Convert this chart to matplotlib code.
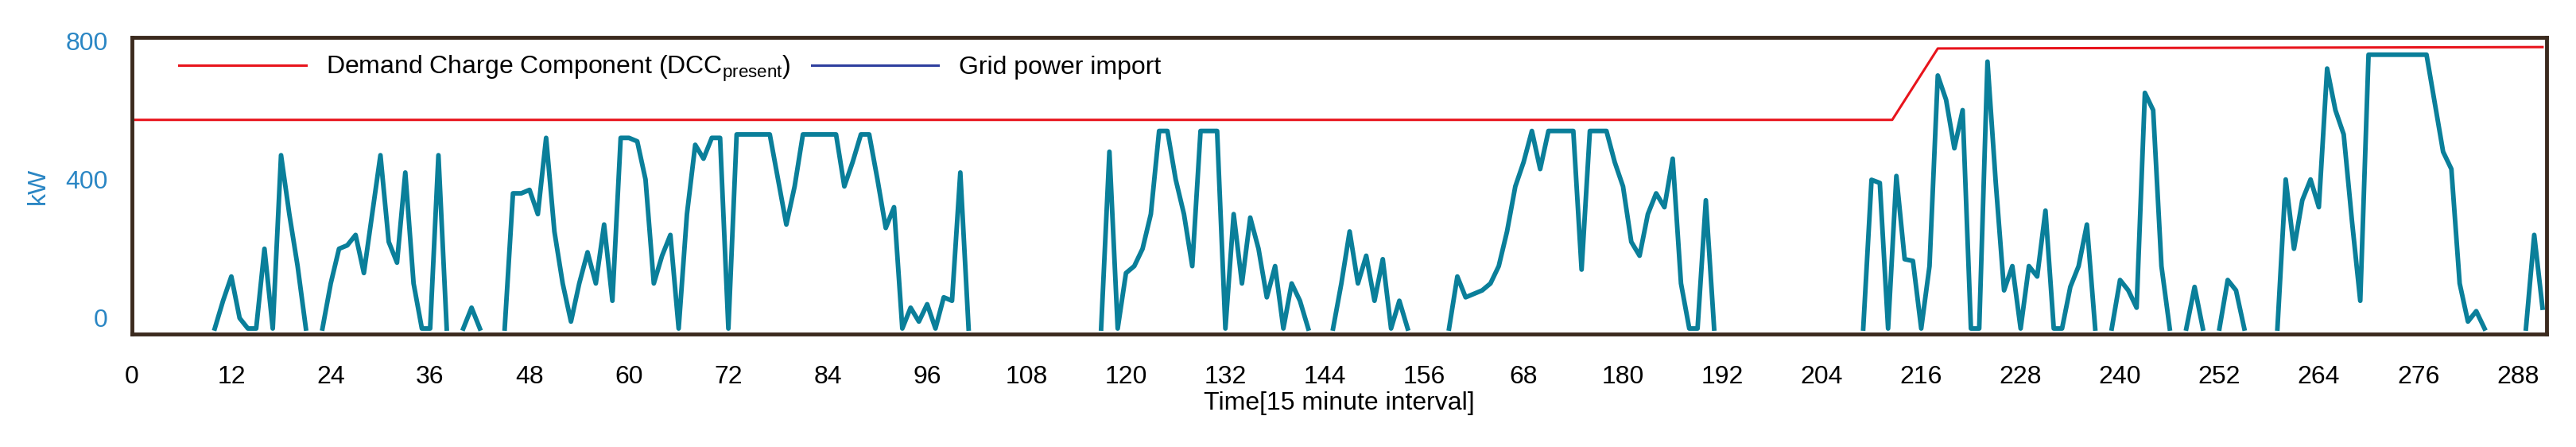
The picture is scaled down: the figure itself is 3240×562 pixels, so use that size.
import numpy as np
import matplotlib
matplotlib.use("Agg")
import matplotlib.pyplot as plt
from matplotlib.lines import Line2D

plt.rcParams['font.family'] = ['Liberation Sans', 'DejaVu Sans']
plt.rcParams['mathtext.default'] = 'regular'

# grid power import (kW), index = 15 minute interval, missing = no import
grid_points = {
    10: -30, 11: 50, 12: 120, 13: 0, 14: -30,
    15: -30, 16: 200, 17: -30, 18: 470, 19: 300, 20: 150, 21: -30,
    23: -30, 24: 100, 25: 200, 26: 210, 27: 240, 28: 130, 29: 300, 30: 470, 31: 220,
    32: 160, 33: 420, 34: 100, 35: -30, 36: -30, 37: 470, 38: -30,
    40: -30, 41: 30, 42: -30,
    45: -30, 46: 360, 47: 360, 48: 370, 49: 300, 50: 520, 51: 250, 52: 100, 53: -10,
    54: 100, 55: 190, 56: 100, 57: 270, 58: 50, 59: 520, 60: 520, 61: 510, 62: 400,
    63: 100, 64: 180, 65: 240, 66: -30, 67: 300, 68: 500, 69: 460, 70: 520, 71: 520,
    72: -30, 73: 530, 74: 530, 75: 530, 76: 530, 77: 530, 78: 400, 79: 270, 80: 380,
    81: 530, 82: 530, 83: 530, 84: 530, 85: 530, 86: 380, 87: 450, 88: 530, 89: 530,
    90: 400, 91: 260, 92: 320, 93: -30,
    94: 30, 95: -10, 96: 40, 97: -30, 98: 60, 99: 50, 100: 420, 101: -30,
    117: -30, 118: 480, 119: -30, 120: 130, 121: 150, 122: 200, 123: 300, 124: 540,
    125: 540, 126: 400, 127: 300, 128: 150, 129: 540, 130: 540, 131: 540, 132: -30,
    133: 300, 134: 100, 135: 290, 136: 200, 137: 60, 138: 150, 139: -30, 140: 100,
    141: 50, 142: -30,
    145: -30, 146: 100, 147: 250, 148: 100, 149: 180, 150: 50, 151: 170, 152: -30,
    153: 50, 154: -30,
    159: -30, 160: 120, 161: 60, 162: 70, 163: 80, 164: 100, 165: 150, 166: 250,
    167: 380, 168: 450, 169: 540, 170: 430, 171: 540, 172: 540, 173: 540, 174: 540,
    175: 140, 176: 540, 177: 540, 178: 540, 179: 450, 180: 380, 181: 220, 182: 180,
    183: 300, 184: 360, 185: 320, 186: 460, 187: 100, 188: -30,
    189: -30, 190: 340, 191: -30,
    209: -30, 210: 399, 211: 390, 212: -30, 213: 410, 214: 170, 215: 165, 216: -30,
    217: 150, 218: 700, 219: 630, 220: 490, 221: 600, 222: -30, 223: -30, 224: 740,
    225: 390, 226: 80, 227: 150, 228: -30, 229: 150, 230: 120, 231: 310, 232: -30,
    233: -30, 234: 90, 235: 150, 236: 270, 237: -30,
    239: -30, 240: 110, 241: 80, 242: 30, 243: 650, 244: 600, 245: 150, 246: -30,
    248: -30, 249: 90, 250: -30,
    252: -30, 253: 110, 254: 80, 255: -30,
    259: -30, 260: 400, 261: 200, 262: 340, 263: 400, 264: 320, 265: 720, 266: 600,
    267: 530, 268: 280, 269: 50, 270: 760, 271: 760, 272: 760, 273: 760, 274: 760,
    275: 760, 276: 760, 277: 760, 278: 620, 279: 480, 280: 430, 281: 100, 282: -10,
    283: 20, 284: -30,
    289: -30, 290: 240, 291: 30,
}

# demand charge component, breakpoints
dcc_x = [0, 212.5, 218, 291]
dcc_y = [572, 572, 778, 782]

xticks = list(range(0, 289, 12))
xtick_labels = [str(t) for t in xticks]
xtick_labels[xticks.index(168)] = "68"

x = np.arange(0, 292)
grid = np.full(len(x), np.nan)
for k, v in grid_points.items():
    grid[k] = v

fig = plt.figure(figsize=(32.41, 5.62), dpi=100)
ax = fig.add_axes([0.0512, 0.2527, 0.9371, 0.6637])

ax.plot(dcc_x, dcc_y, color='#e8141c', lw=2.2)
ax.plot(x, grid, color='#0a7f9a', lw=4.2)

ax.set_xlim(0, 291.5)
ax.set_ylim(-46, 810)
ax.set_xticks(xticks, xtick_labels)
ax.set_yticks([0, 400, 800])
ax.tick_params(axis='both', length=0, labelsize=23)
ax.tick_params(axis='x', pad=28)
ax.tick_params(axis='y', pad=22, labelcolor='#2a86c4')
ax.set_xlabel('Time[15 minute interval]', fontsize=23, labelpad=2)
ax.set_ylabel('kW', fontsize=23, color='#2a86c4', labelpad=14)
for s in ax.spines.values():
    s.set_color('#3b2a1e')
    s.set_linewidth(3.5)

handles = [Line2D([], [], color='#e8141c', lw=2.2),
           Line2D([], [], color='#2e3f9e', lw=2.2)]
labels = ['Demand Charge Component (DCC$_{present}$)', 'Grid power import']
ax.legend(handles, labels, loc='upper left', bbox_to_anchor=(0.01, 1.02), ncol=2,
          frameon=False, fontsize=23, handlelength=5, columnspacing=0.8)

fig.savefig('out.png', dpi=100)
